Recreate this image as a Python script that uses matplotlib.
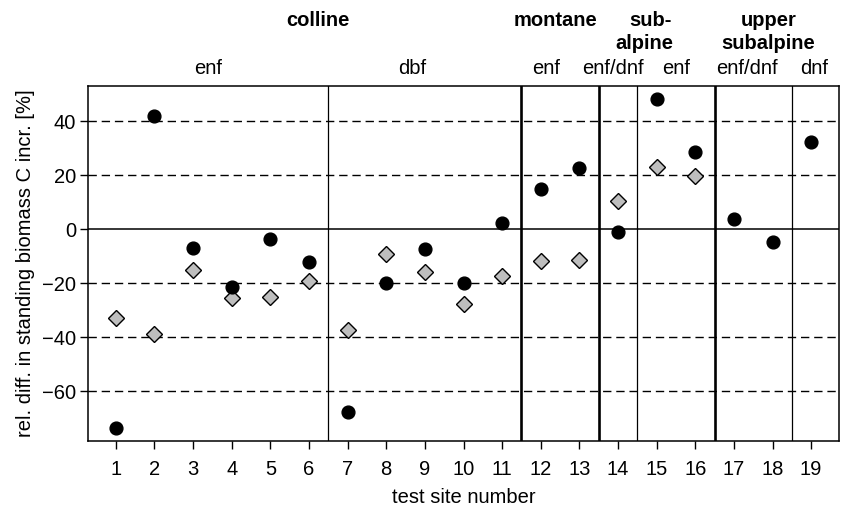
import numpy as np
import matplotlib
matplotlib.use("Agg")
import matplotlib.pyplot as plt

plt.rcParams['font.family'] = ['Liberation Sans', 'DejaVu Sans']

sites = list(range(1, 20))
circles = [-73.5, 42.0, -6.8, -21.5, -3.7, -12.2, -67.8, -19.9, -7.3, -19.9,
           2.3, 14.9, 22.6, -1.1, 48.3, 28.7, 3.7, -4.8, 32.2]
diamonds = [-32.8, -38.8, -15.1, -25.4, -25.0, -19.3, -37.3, -9.2, -15.8, -27.7,
            -17.3, -11.7, -11.4, 10.5, 23.0, 19.7, np.nan, np.nan, np.nan]

yticks = [-60, -40, -20, 0, 20, 40]
dashed_levels = [-60, -40, -20, 20, 40]
thin_dividers = [6.5, 14.5, 18.5]
thick_dividers = [11.5, 13.5, 16.5]

# (x position in site units, text)
type_labels = [(3.40, 'enf'), (8.66, 'dbf'), (12.15, 'enf'), (13.87, 'enf/dnf'),
               (15.5, 'enf'), (17.33, 'enf/dnf'), (19.07, 'dnf')]
zone_row1 = [(6.23, 'colline'), (12.37, 'montane'), (14.85, 'sub-'), (17.9, 'upper')]
zone_row2 = [(14.69, 'alpine'), (17.89, 'subalpine')]

FS = 14.5
W, H = 841, 511
fig = plt.figure(figsize=(W / 100, H / 100), dpi=100)
L, R, T, B = 88, 839, 86, 441
ax = fig.add_axes([L / W, 1 - B / H, (R - L) / W, (B - T) / H])

ax.set_xlim(0.28, 19.72)
ax.set_ylim(-78.4, 53.0)

for lv in dashed_levels:
    ax.axhline(lv, color='black', lw=1.0, dashes=(6, 3.5), zorder=1)
ax.axhline(0, color='black', lw=1.1, zorder=1)
for xv in thin_dividers:
    ax.axvline(xv, color='black', lw=0.9, zorder=1)
for xv in thick_dividers:
    ax.axvline(xv, color='black', lw=1.9, zorder=1)

ax.plot(sites, diamonds, linestyle='none', marker='D', markersize=8.3,
        markerfacecolor='#BEBEBE', markeredgecolor='black', markeredgewidth=1.0, zorder=3)
ax.plot(sites, circles, linestyle='none', marker='o', markersize=9.2,
        markerfacecolor='black', markeredgecolor='black', zorder=4)

ax.set_xticks(sites)
ax.set_xticklabels([str(s) for s in sites])
ax.set_yticks(yticks)
ax.set_yticklabels([str(v).replace('-', '\u2212') for v in yticks])
ax.tick_params(axis='both', direction='out', length=5.5, width=1.0, labelsize=FS)
ax.tick_params(axis='x', pad=8)
ax.tick_params(axis='y', pad=3)
for sp in ax.spines.values():
    sp.set_linewidth(1.1)

ax.set_xlabel('test site number', fontsize=FS, labelpad=7)
ax.set_ylabel('rel. diff. in standing biomass C incr. [%]', fontsize=FS, labelpad=5)

trans = ax.get_xaxis_transform()
def yfrac(ypix):
    return (B - ypix) / (B - T)

for x, s in type_labels:
    ax.text(x, yfrac(74), s, transform=trans, ha='center', va='baseline',
            fontsize=FS, clip_on=False)
for x, s in zone_row1:
    ax.text(x, yfrac(26.5), s, transform=trans, ha='center', va='baseline',
            fontsize=FS, fontweight='bold', clip_on=False)
for x, s in zone_row2:
    ax.text(x, yfrac(49.3), s, transform=trans, ha='center', va='baseline',
            fontsize=FS, fontweight='bold', clip_on=False)

fig.savefig('out.png', dpi=100)
